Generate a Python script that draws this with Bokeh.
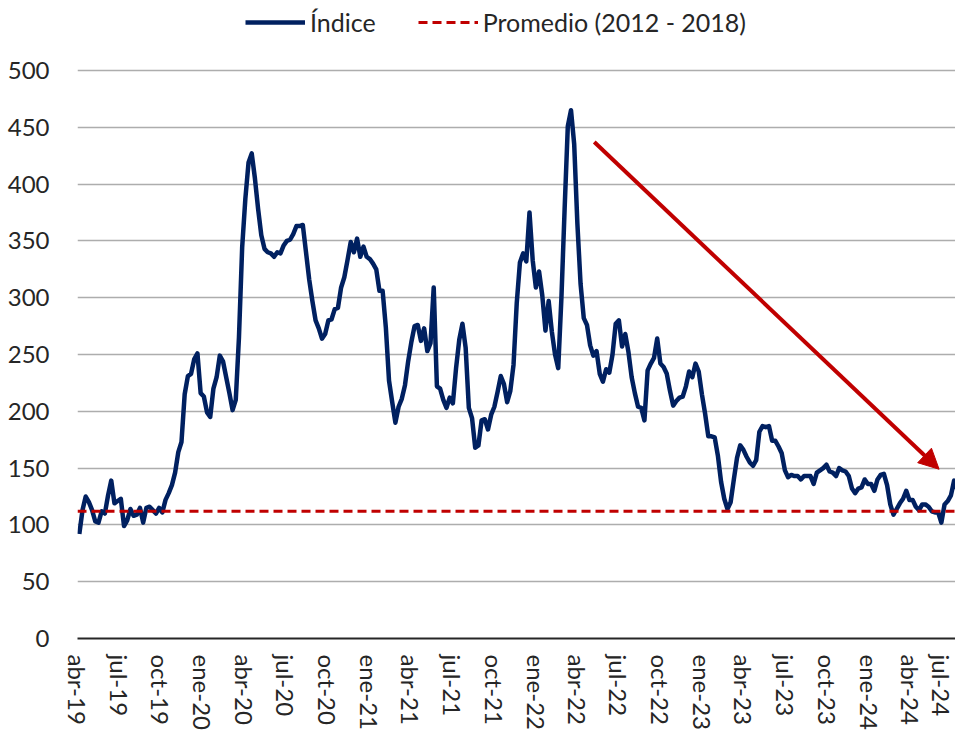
import pandas as pd
from bokeh.plotting import figure
from bokeh.models import (Range1d, FixedTicker, CustomJSTickFormatter, Legend,
                          LegendItem, Arrow, NormalHead)
from bokeh.embed import file_html
from bokeh.resources import INLINE

# ---------------- data ----------------
start_date = "2019-04-05"          # weekly series
indice = [
    92, 113, 125, 120, 113, 103, 102, 112, 110, 126, 139, 119, 121,
    123, 99, 104, 114, 108, 109, 115, 102, 115, 116, 113, 110, 115,
    111, 122, 128, 135, 146, 164, 173, 215, 231, 233, 246, 251, 216,
    213, 199, 195, 220, 230, 249, 244, 230, 216, 201, 210, 265, 344,
    387, 419, 427, 405, 378, 355, 343, 340, 339, 336, 340, 339, 346,
    350, 351, 356, 363, 363, 364, 340, 316, 297, 280, 273, 264, 268,
    280, 281, 290, 291, 309, 318, 333, 349, 340, 352, 336, 345, 336,
    334, 330, 325, 306, 306, 274, 227, 208, 190, 204, 211, 223, 244,
    261, 275, 276, 262, 273, 253, 260, 309, 222, 220, 210, 203, 212,
    207, 238, 263, 277, 256, 203, 194, 168, 170, 192, 193, 184, 197,
    204, 217, 231, 224, 208, 218, 241, 295, 331, 339, 332, 375, 333,
    309, 323, 302, 271, 297, 270, 250, 238, 300, 378, 451, 465, 435,
    365, 312, 282, 276, 258, 249, 253, 233, 226, 237, 234, 250, 277,
    280, 257, 268, 252, 230, 216, 204, 203, 192, 236, 242, 247, 264,
    242, 239, 233, 218, 205, 209, 212, 213, 222, 235, 230, 242, 235,
    215, 198, 178, 178, 177, 161, 138, 123, 114, 120, 140, 159, 170,
    166, 160, 155, 152, 157, 182, 187, 186, 187, 174, 174, 169, 163,
    148, 142, 144, 143, 143, 140, 143, 143, 143, 136, 146, 148, 150,
    153, 147, 146, 143, 150, 148, 147, 143, 132, 128, 132, 133, 140,
    136, 136, 130, 140, 144, 145, 135, 118, 109, 114, 119, 123, 130,
    122, 122, 116, 113, 118, 118, 116, 112, 111, 111, 102, 118, 121,
    126, 139, 131,
]
promedio = 112
promedio_label = "Promedio (2012 - 2018)"
indice_label = "Índice"
month_names = ["ene", "feb", "mar", "abr", "may", "jun",
               "jul", "ago", "sep", "oct", "nov", "dic"]
x_start, x_end = "2019-04-01", "2024-07-08"
tick_start, tick_end = "2019-04-01", "2024-07-01"
y_ticks = list(range(0, 501, 50))
y_top = 561.6          # headroom above 500 holds the legend
arrow_from = ("2022-05-08", 437)
arrow_to = ("2024-06-02", 149)

NAVY = "#002060"
RED = "#C00000"
FONT = "Lato"
TXT = "#262626"


def ms(d):
    return pd.Timestamp(d).value / 1e6


dates = pd.date_range(start_date, periods=len(indice), freq="7D")
tick_dates = pd.date_range(tick_start, tick_end, freq="3MS")

p = figure(frame_width=878, frame_height=638, x_axis_type="datetime",
           output_backend="svg", toolbar_location=None,
           x_range=Range1d(ms(x_start), ms(x_end)),
           y_range=Range1d(0, y_top),
           min_border_left=77, min_border_right=0, min_border_top=0,
           min_border_bottom=0)
p.outline_line_color = None
p.background_fill_color = "white"

r_ind = p.line(dates, indice, line_color=NAVY, line_width=4.5,
               line_join="round")
r_prom = p.line([pd.Timestamp(x_start), pd.Timestamp(x_end)],
                [promedio, promedio], line_color=RED, line_width=3,
                line_dash="9 5")

p.add_layout(Arrow(end=NormalHead(size=20, fill_color=RED, line_color=RED),
                   x_start=ms(arrow_from[0]), y_start=arrow_from[1],
                   x_end=ms(arrow_to[0]), y_end=arrow_to[1],
                   line_color=RED, line_width=4))

# axes
p.yaxis.ticker = FixedTicker(ticks=y_ticks)
p.yaxis.axis_line_color = None
p.yaxis.major_tick_line_color = None
p.yaxis.minor_tick_line_color = None
p.yaxis.major_label_standoff = 22
p.yaxis.major_label_text_font = FONT
p.yaxis.major_label_text_font_size = "24px"
p.yaxis.major_label_text_color = TXT

p.xaxis.ticker = FixedTicker(ticks=[ms(d) for d in tick_dates])
p.xaxis.formatter = CustomJSTickFormatter(args=dict(names=month_names), code="""
    const d = new Date(tick);
    return names[d.getUTCMonth()] + "-" + String(d.getUTCFullYear()).slice(2);
""")
p.xaxis.major_label_orientation = "vertical"
p.xaxis.axis_line_color = TXT
p.xaxis.axis_line_width = 2
p.xaxis.major_tick_line_color = None
p.xaxis.minor_tick_line_color = None
p.xaxis.major_label_standoff = 10
p.xaxis.major_label_text_font = FONT
p.xaxis.major_label_text_font_size = "24px"
p.xaxis.major_label_text_color = TXT

p.xgrid.grid_line_color = None
p.ygrid.grid_line_color = "#ADADAD"
p.ygrid.grid_line_width = 1.5
p.ygrid.ticker = FixedTicker(ticks=y_ticks)

legend = Legend(items=[LegendItem(label=indice_label, renderers=[r_ind]),
                       LegendItem(label=promedio_label, renderers=[r_prom])],
                orientation="horizontal", location=(168, 601),
                glyph_width=60, glyph_height=24, label_standoff=5,
                spacing=42, padding=0, margin=0,
                border_line_color=None, background_fill_alpha=0,
                label_text_font=FONT, label_text_font_size="25px",
                label_text_color=TXT)
p.add_layout(legend, "center")

open("out.html", "w").write(file_html(p, INLINE))
